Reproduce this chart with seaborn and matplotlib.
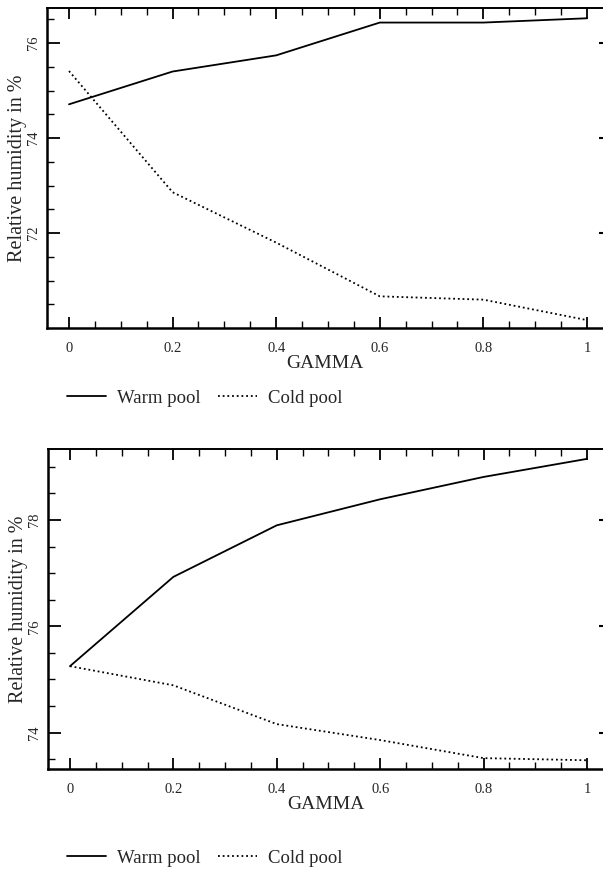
import numpy as np
import pandas as pd
import matplotlib
matplotlib.use("Agg")
import matplotlib.pyplot as plt
import seaborn as sns
from matplotlib.lines import Line2D
from matplotlib.ticker import MultipleLocator, FuncFormatter, NullLocator

# ---- data ----
gamma = [0.0, 0.2, 0.4, 0.6, 0.8, 1.0]
top_warm = [74.71, 75.40, 75.74, 76.43, 76.43, 76.52]
top_cold = [75.41, 72.86, 71.80, 70.67, 70.60, 70.17]
bot_warm = [75.25, 76.93, 77.90, 78.39, 78.81, 79.15]
bot_cold = [75.25, 74.89, 74.16, 73.86, 73.52, 73.48]
series_names = ["Warm pool", "Cold pool"]
x_label = "GAMMA"
y_label = "Relative humidity in %"

sns.set_theme(style="white")
plt.rcParams["font.family"] = ["Liberation Serif", "DejaVu Serif"]

W, H = 603, 876
fig = plt.figure(figsize=(W / 100, H / 100), dpi=100)


def make_df(warm, cold):
    return pd.DataFrame({
        "gamma": gamma * 2,
        "rh": warm + cold,
        "pool": [series_names[0]] * len(gamma) + [series_names[1]] * len(gamma),
    })


def px_rect(left, top, right, bottom):
    return [left / W, 1 - bottom / H, (right - left) / W, (bottom - top) / H]


def style_axes(ax, ylim, ylab_y):
    ax.set_xlim(-0.0425, 1.031)
    ax.set_ylim(*ylim)
    ax.xaxis.set_major_locator(MultipleLocator(0.2))
    ax.xaxis.set_minor_locator(MultipleLocator(0.05))
    ax.yaxis.set_major_locator(MultipleLocator(2))
    ax.yaxis.set_minor_locator(MultipleLocator(0.5))
    ax.xaxis.set_major_formatter(FuncFormatter(lambda v, p: "%g" % round(v, 3)))
    ax.yaxis.set_major_formatter(FuncFormatter(lambda v, p: "%d" % round(v)))
    ax.tick_params(axis="both", which="both", direction="in", color="black",
                   top=True, bottom=True, left=True, right=False)
    ax.tick_params(axis="x", which="major", length=8, width=1.3, pad=10,
                   labelsize=10.5)
    ax.tick_params(axis="x", which="minor", length=5, width=1.0)
    ax.tick_params(axis="y", which="major", length=9, width=1.3, pad=5,
                   labelsize=10.5)
    ax.tick_params(axis="y", which="minor", length=5, width=1.0)
    for lab in ax.get_yticklabels():
        lab.set_rotation(90)
        lab.set_va("center")
    for side in ["left", "bottom"]:
        ax.spines[side].set_linewidth(1.8)
        ax.spines[side].set_color("black")
    ax.spines["top"].set_linewidth(1.4)
    ax.spines["top"].set_color("black")
    ax.spines["right"].set_visible(False)
    ax.set_xlabel(x_label, fontsize=14, labelpad=0)
    ax.set_ylabel(y_label, fontsize=14.5)
    ax.yaxis.set_label_coords(-0.036, ylab_y)
    ax.grid(False)
    # short tick marks along the right edge
    sec = ax.secondary_yaxis("right")
    sec.yaxis.set_major_locator(MultipleLocator(2))
    sec.yaxis.set_minor_locator(NullLocator())
    sec.tick_params(axis="y", which="major", direction="in", length=3,
                    width=1.5, color="black", labelright=False)
    sec.spines["right"].set_visible(False)


dashes = {series_names[0]: "", series_names[1]: (1, 1.6)}
palette = {series_names[0]: "black", series_names[1]: "black"}

ax1 = fig.add_axes(px_rect(47, 8.3, 603, 327.7))
sns.lineplot(data=make_df(top_warm, top_cold), x="gamma", y="rh", hue="pool",
             style="pool", dashes=dashes, palette=palette, linewidth=1.3,
             legend=False, ax=ax1)
style_axes(ax1, (70.01, 76.73), 0.50)

ax2 = fig.add_axes(px_rect(48, 449.3, 603, 769.3))
sns.lineplot(data=make_df(bot_warm, bot_cold), x="gamma", y="rh", hue="pool",
             style="pool", dashes=dashes, palette=palette, linewidth=1.3,
             legend=False, ax=ax2)
style_axes(ax2, (73.31, 79.33), 0.5)

handles = [Line2D([], [], color="black", linewidth=1.3),
           Line2D([], [], color="black", linewidth=1.3, dashes=(1, 1.6))]
for ycen in (398, 858):
    fig.legend(handles, series_names, loc="center left",
               bbox_to_anchor=(50 / W, 1 - ycen / H), ncol=2, frameon=False,
               fontsize=13.5, handlelength=2.1, handletextpad=0.55,
               columnspacing=0.95)

fig.savefig("out.png", dpi=100)
